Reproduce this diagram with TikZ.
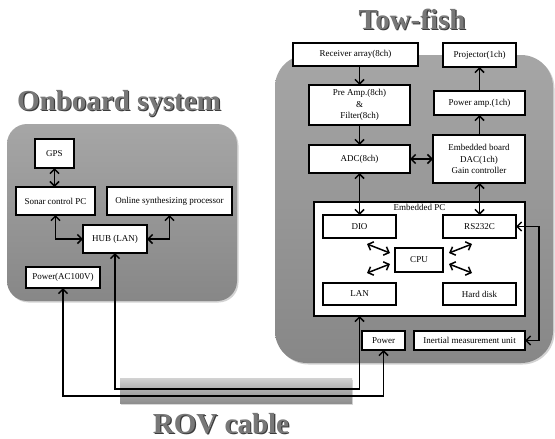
\documentclass[tikz,border=0pt]{standalone}
\usepackage{fontspec}
\setmainfont{Liberation Serif}
\usetikzlibrary{arrows.meta,shadows}
\definecolor{boxtop}{HTML}{A6A6A6}
\definecolor{boxbot}{HTML}{878787}
\definecolor{bartop}{HTML}{D2D2D2}
\definecolor{barmid}{HTML}{ABABAB}
\definecolor{barbot}{HTML}{8E8E8E}
\definecolor{ttlgray}{HTML}{787878}
\definecolor{ttlshadow}{HTML}{3C3C3C}
\begin{document}
\begin{tikzpicture}[x=1pt,y=-1pt,
  panel/.style={top color=boxtop,bottom color=boxbot,draw=none,
    drop shadow={shadow xshift=1.5pt,shadow yshift=-1.5pt,opacity=.35}},
  blk/.style={draw,line width=1.5pt,fill=white,inner sep=0pt,outer sep=0pt,
    align=center,font=\fontsize{9}{11.5}\selectfont},
  con/.style={line width=1.5pt,>={Straight Barb[length=4.5pt,width=9pt]}},
  ttl/.style={font=\bfseries\fontsize{29}{31}\selectfont,anchor=base,inner sep=0pt},
  ttlfg/.style={ttl,text=ttlgray},
  ttlsh/.style={ttl,text=ttlshadow}]
\useasboundingbox (0,0) rectangle (555,439);
\fill[white] (0,0) rectangle (555,439);

% panels
\path[panel,rounded corners=20pt] (7,124) rectangle (237,301);
\path[panel,rounded corners=32pt] (275,55) rectangle (553,363);
% cable bar
\path[top color=bartop,bottom color=barbot,middle color=barmid,
  drop shadow={shadow xshift=1pt,shadow yshift=-1.5pt,opacity=.3}] (120,378) rectangle (352,403);

% titles
\node[ttlsh] (t1s) at (120.2,111.8) {Onboard system};
\node[ttlfg] (t1) at (119,110.6) {Onboard system};
\node[ttlsh] (t2s) at (413.2,30.2) {Tow-fish};
\node[ttlfg] (t2) at (412,29) {Tow-fish};
\node[ttlsh] (t3s) at (222.2,434.2) {ROV cable};
\node[ttlfg] (t3) at (221,433) {ROV cable};

% onboard nodes
\node[blk,minimum width=39pt,minimum height=29pt] (gps) at (54.5,153.5) {GPS};
\node[blk,minimum width=79pt,minimum height=28pt] (sonar) at (55.5,201) {Sonar control PC};
\node[blk,minimum width=125pt,minimum height=28pt] (online) at (169.5,201) {Online synthesizing processor};
\node[blk,minimum width=64pt,minimum height=28pt] (hub) at (115,239) {HUB (LAN)};
\node[blk,minimum width=74pt,minimum height=21pt] (powac) at (63,277.5) {Power(AC100V)};

% tow-fish nodes
\node[blk,minimum width=125pt,minimum height=23pt] (recv) at (355.5,54.5) {Receiver array(8ch)};
\node[blk,minimum width=73pt,minimum height=24pt] (proj) at (479.5,55) {Projector(1ch)};
\node[blk,minimum width=101pt,minimum height=40pt] (preamp) at (359.5,105) {Pre Amp.(8ch)\\\&\\Filter(8ch)};
\node[blk,minimum width=91pt,minimum height=24pt] (pamp) at (479.5,103) {Power amp.(1ch)};
\node[blk,minimum width=101pt,minimum height=28pt] (adc) at (359.5,159) {ADC(8ch)};
\node[blk,minimum width=92pt,minimum height=48pt] (emb) at (479,159) {Embedded board\\DAC(1ch)\\Gain controller};
\node[blk,minimum width=211pt,minimum height=114pt] (embpc) at (419.5,259) {};
\node[anchor=north,inner sep=2pt,font=\fontsize{9}{11}\selectfont] (embpclbl) at (embpc.north) {Embedded PC};
\node[blk,minimum width=73pt,minimum height=23pt] (dio) at (359.5,226.5) {DIO};
\node[blk,minimum width=73pt,minimum height=23pt] (rs) at (479.5,226.5) {RS232C};
\node[blk,minimum width=48pt,minimum height=24pt] (cpu) at (419,260) {CPU};
\node[blk,minimum width=73pt,minimum height=22pt] (lan) at (359.5,294) {LAN};
\node[blk,minimum width=73pt,minimum height=22pt] (hdd) at (479.5,294) {Hard disk};
\node[blk,minimum width=43pt,minimum height=19pt] (pow) at (383.5,340.5) {Power};
\node[blk,minimum width=111pt,minimum height=19pt] (imu) at (469.5,340.5) {Inertial measurement unit};

% helper coordinates
\coordinate (ya) at (0,389);
\coordinate (yb) at (0,396);
\coordinate (c1a) at (367,244); \coordinate (c1b) at (390,253);
\coordinate (c2a) at (367,273); \coordinate (c2b) at (390,264);
\coordinate (c3a) at (449,253); \coordinate (c3b) at (472,244);
\coordinate (c4a) at (449,264); \coordinate (c4b) at (472,273);

% onboard connectors
\draw[con,<->] (gps.south) -- (gps.south |- sonar.north);
\draw[con,<->] (sonar.south) |- (hub.west);
\draw[con,<->] (online.south) |- (hub.east);
\draw[con,<->] (hub.south) -- (hub.south |- ya) -| (lan.south |- embpc.south);
\draw[con,<->] (powac.south) -- (powac.south |- yb) -| (pow.south);

% tow-fish connectors
\draw[con,->] (preamp.north |- recv.south) -- (preamp.north);
\draw[con,->] (preamp.south) -- (adc.north);
\draw[con,<->] (adc.east) -- (adc.east -| emb.west);
\draw[con,<->] (adc.south) -- (dio.north);
\draw[con,<->] (rs.north |- emb.south) -- (rs.north);
\draw[con,->] (pamp.south |- emb.north) -- (pamp.south);
\draw[con,->] (pamp.north) -- (proj.south);
\draw[con,<->] (rs.east) -- ++(23,0) |- (imu.east);
\draw[con,<->] (c1a) -- (c1b);
\draw[con,<->] (c2a) -- (c2b);
\draw[con,<->] (c3a) -- (c3b);
\draw[con,<->] (c4a) -- (c4b);
\end{tikzpicture}
\end{document}
